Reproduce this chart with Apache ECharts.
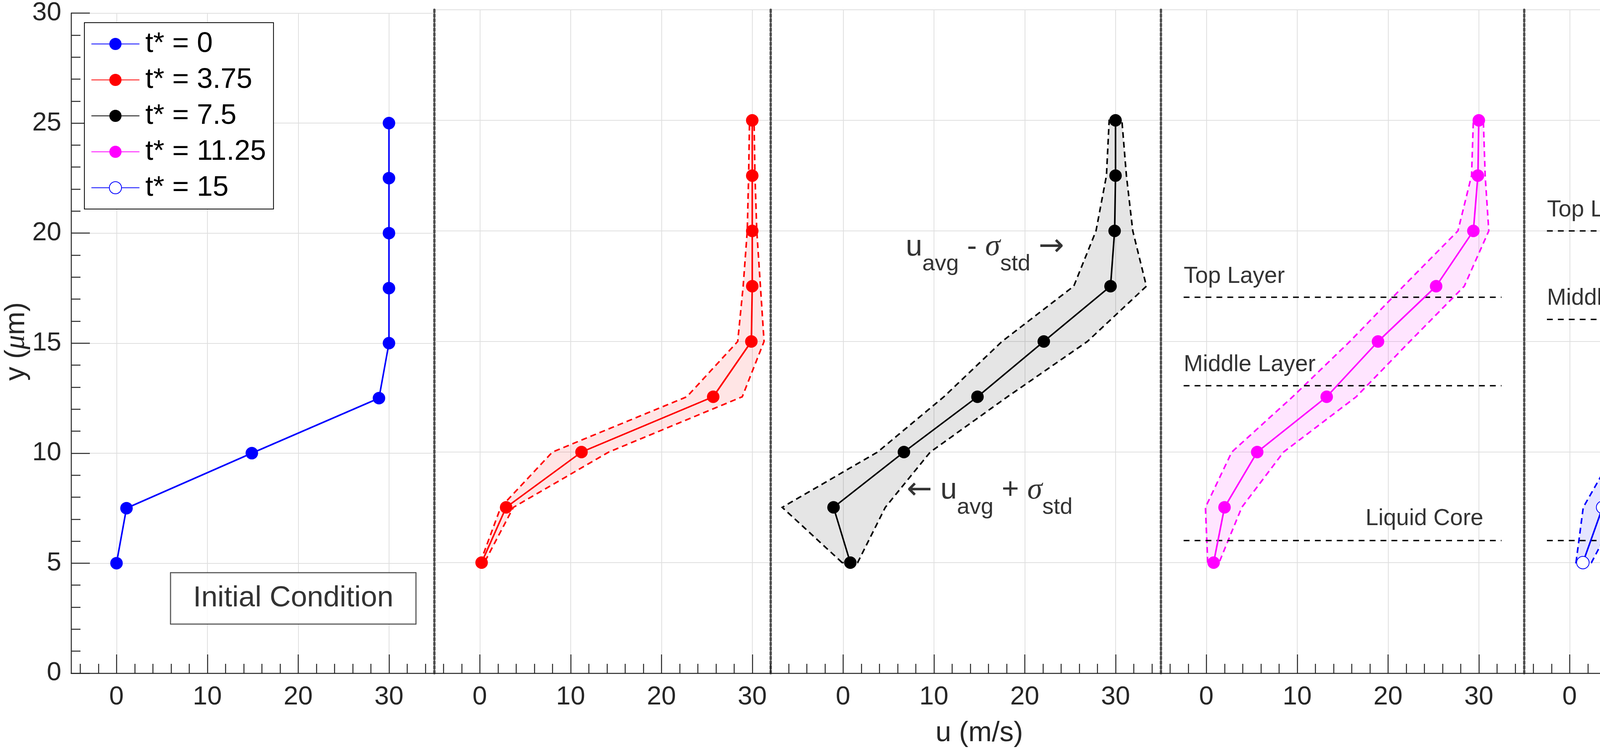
<!DOCTYPE html>
<html>
<head>
<meta charset="utf-8">
<script src="https://cdn.jsdelivr.net/npm/echarts@6/dist/echarts.min.js"></script>
<style>
  html, body { margin: 0; padding: 0; background: #fff; }
  #main { width: 4837px; height: 1917px; }
</style>
</head>
<body>
<div id="main"></div>
<script>
// y positions of the profile points (um)
var yLevels = [5, 7.5, 10, 12.5, 15, 17.5, 20, 22.5, 25];

// t* = 0, initial condition
var u_t0 = [0, 1.1, 14.9, 28.9, 30, 30, 30, 30, 30];

// t* = 3.75
var u_t375 = [0.2, 2.9, 11.2, 25.7, 29.9, 30, 30, 30, 30];
var lo_t375 = [0.05, 2.3, 8.0, 22.8, 28.4, 29.0, 29.45, 29.6, 29.7];
var hi_t375 = [0.5, 3.7, 14.2, 28.9, 31.3, 30.9, 30.5, 30.3, 30.2];

// t* = 7.5
var u_t75 = [0.8, -1.05, 6.7, 14.8, 22.1, 29.45, 29.9, 30, 30];
var lo_t75 = [-0.1, -6.7, 3.8, 11.1, 17.5, 25.4, 27.85, 29.0, 29.3];
var hi_t75 = [1.6, 4.65, 9.6, 18.1, 26.9, 33.4, 31.9, 31.2, 30.7];

// t* = 11.25
var u_t1125 = [0.8, 2.0, 5.6, 13.25, 18.9, 25.3, 29.4, 29.9, 30];
var lo_t1125 = [0.15, -0.1, 2.8, 9.5, 15.8, 21.7, 27.7, 29.2, 29.4];
var hi_t1125 = [1.4, 3.9, 8.5, 16.5, 22.4, 28.4, 31.1, 30.7, 30.5];

// t* = 15
var u_t15 = [1.46, 3.63, 7.74, 12.6, 15.8, 21.9, 26.46, 29.43, 29.97];
var lo_t15 = [0.7, 1.5, 4.96, 9.07, 12.1, 19.4, 24.6, 28.05, 29.4];
var hi_t15 = [2.4, 5.6, 10.0, 16.1, 19.3, 24.3, 28.3, 30.8, 30.4];

var panelNames = ['t* = 0', 't* = 3.75', 't* = 7.5', 't* = 11.25', 't* = 15'];
var panelAvg = [u_t0, u_t375, u_t75, u_t1125, u_t15];
var panelLo = [null, lo_t375, lo_t75, lo_t1125, lo_t15];
var panelHi = [null, hi_t375, hi_t75, hi_t1125, hi_t15];
var panelMin = [-5, -5, -8, -5, -5];
var panelMax = [35, 32, 35, 35, 35];

// ticks
var xTickLabels = [0, 10, 20, 30];
var xMinorStep = 2;

// layer boundaries (panels 4 and 5)
var layerNames = ['Top Layer', 'Middle Layer', 'Liquid Core'];
var layerY_t1125 = [17, 13, 6];
var layerY_t15 = [20, 16, 6];
var layerX = [-2.5, 32.5];

var colors = ['#0000ff', '#ff0000', '#000000', '#ff00ff', '#0000ff'];
var fills = [null, 'rgba(255,0,0,0.1)', 'rgba(0,0,0,0.1)', 'rgba(255,0,255,0.1)', 'rgba(0,0,255,0.1)'];

var FONT = 'Liberation Sans, Arial, Helvetica, sans-serif';
var axisColor = '#262626';
var gridColor = '#dfdfdf';

// layout
var unitX = 23.25, left0 = 182, top0 = 25, plotH = 1698;

var myChart = echarts.init(document.getElementById('main'), null, {renderer: 'canvas'});

function pairs(xs) {
    return yLevels.map(function (y, k) { return [xs[k], y]; });
}

var grids = [], xAxes = [], xMinorAxes = [], yAxes = [], series = [];
var cursor = left0;
for (var i = 0; i < 5; i++) {
    var w = (panelMax[i] - panelMin[i]) * unitX;
    grids.push({left: cursor, top: top0, width: w, height: plotH, containLabel: false});
    cursor += w;

    xAxes.push({
        type: 'value', gridIndex: i, position: 'bottom',
        min: panelMin[i], max: panelMax[i],
        axisLine: {show: true, onZero: false, lineStyle: {color: axisColor, width: 2.5}},
        axisTick: {show: true, inside: true, length: 48, customValues: xTickLabels,
            lineStyle: {color: axisColor, width: 2.5}},
        axisLabel: {show: true, customValues: xTickLabels, fontSize: 67, margin: 28,
            color: axisColor, fontFamily: FONT},
        splitLine: {show: true, lineStyle: {color: gridColor, width: 2}}
    });

    var minorVals = [];
    for (var v = Math.ceil(panelMin[i] / xMinorStep) * xMinorStep; v <= panelMax[i]; v += xMinorStep) {
        if (xTickLabels.indexOf(v) < 0) minorVals.push(v);
    }
    xMinorAxes.push({
        type: 'value', gridIndex: i, position: 'bottom',
        min: panelMin[i], max: panelMax[i],
        axisLine: {show: false, onZero: false},
        axisTick: {show: true, inside: true, length: 24, customValues: minorVals,
            lineStyle: {color: axisColor, width: 2.5}},
        axisLabel: {show: false},
        splitLine: {show: false}
    });

    if (i === 0) {
        yAxes.push({
            type: 'value', gridIndex: i, min: 0, max: 30, interval: 5,
            axisLine: {show: true, onZero: false, lineStyle: {color: axisColor, width: 2.5}},
            axisTick: {show: true, inside: true, length: 48, lineStyle: {color: axisColor, width: 2.5}},
            minorTick: {show: true, splitNumber: 5, length: 24, lineStyle: {color: axisColor, width: 2.5}},
            axisLabel: {fontSize: 67, margin: 25, color: axisColor, fontFamily: FONT},
            splitLine: {show: true, lineStyle: {color: gridColor, width: 2}}
        });
    } else {
        yAxes.push({
            type: 'value', gridIndex: i, min: 0, max: 30, interval: 5,
            axisLine: {show: true, onZero: false, lineStyle: {color: '#505050', width: 6, type: [6, 6]}},
            axisTick: {show: false},
            axisLabel: {show: false},
            splitLine: {show: true, lineStyle: {color: gridColor, width: 2}}
        });
    }

    // +/- std band
    if (panelLo[i]) {
        (function (lo, hi, fill, col, idx) {
            series.push({
                type: 'custom', xAxisIndex: idx, yAxisIndex: idx, silent: true, z: 1,
                data: [0],
                renderItem: function (params, api) {
                    var pts = [];
                    for (var k = 0; k < yLevels.length; k++) pts.push(api.coord([lo[k], yLevels[k]]));
                    for (var k2 = yLevels.length - 1; k2 >= 0; k2--) pts.push(api.coord([hi[k2], yLevels[k2]]));
                    return {
                        type: 'polygon',
                        shape: {points: pts},
                        style: {fill: fill, stroke: col, lineWidth: 4, lineDash: [15, 10]}
                    };
                }
            });
        })(panelLo[i], panelHi[i], fills[i], colors[i], i);
    }

    series.push({
        name: panelNames[i], type: 'line', xAxisIndex: i, yAxisIndex: i, z: 5,
        data: pairs(panelAvg[i]),
        symbol: i === 4 ? 'emptyCircle' : 'circle',
        symbolSize: 32,
        lineStyle: {color: colors[i], width: 4},
        itemStyle: {color: colors[i], borderWidth: i === 4 ? 4 : 0},
        silent: true
    });
}

// layer boundary lines and their labels
function addLayers(idx, levels) {
    levels.forEach(function (ly, k) {
        series.push({
            type: 'line', xAxisIndex: idx, yAxisIndex: idx, silent: true, z: 3,
            data: [[layerX[0], ly], [layerX[1], ly]],
            symbol: 'none',
            lineStyle: {color: '#000', width: 3.5, type: [15, 13]}
        });
        var right = layerNames[k] === 'Liquid Core';
        series.push({
            type: 'scatter', xAxisIndex: idx, yAxisIndex: idx, silent: true, z: 6,
            symbolSize: 0,
            data: [[right ? 30.5 : layerX[0], ly]],
            label: {
                show: true, position: [0, 0], offset: [0, right ? -26 : -24],
                align: right ? 'right' : 'left', verticalAlign: 'bottom',
                formatter: layerNames[k], fontSize: 59, lineHeight: 59,
                fontFamily: FONT, color: '#000'
            }
        });
    });
}
addLayers(3, layerY_t1125);
addLayers(4, layerY_t15);

// annotations
var noteRich = {
    m: {fontSize: 76, lineHeight: 80, fontFamily: FONT, color: '#000'},
    s: {fontSize: 58, lineHeight: 60, fontFamily: FONT, color: '#000', padding: [87, 0, 0, 0]},
    g: {fontSize: 78, lineHeight: 80, fontFamily: 'Liberation Serif, DejaVu Serif, serif', fontStyle: 'italic', color: '#000'},
    a: {fontSize: 78, lineHeight: 80, fontFamily: 'DejaVu Sans, sans-serif', color: '#000'}
};
var sigmaNotes = [
    {at: [6.9, 19.26], text: '{m|u}{s|avg}{m| - }{g|σ}{s|std}{m| }{a|→}'},
    {at: [7.0, 8.26], text: '{a|←}{m| u}{s|avg}{m| + }{g|σ}{s|std}'}
];
sigmaNotes.forEach(function (n) {
    series.push({
        type: 'scatter', xAxisIndex: 2, yAxisIndex: 2, silent: true, z: 6,
        symbolSize: 0,
        data: [n.at],
        label: {show: true, position: [0, 0], align: 'left', verticalAlign: 'middle',
            formatter: n.text, rich: noteRich}
    });
});

var initialNote = [19.46, 3.4];
series.push({
    type: 'scatter', xAxisIndex: 0, yAxisIndex: 0, silent: true, z: 6,
    symbolSize: 0,
    data: [initialNote],
    label: {
        show: true, position: [0, 0], align: 'center', verticalAlign: 'middle',
        formatter: 'Initial Condition', fontSize: 75, lineHeight: 76, fontFamily: FONT,
        color: '#000', backgroundColor: '#fff', borderColor: '#000', borderWidth: 2,
        padding: [27, 57, 27, 57]
    }
});

var plotRight = cursor;
var option = {
    animation: false,
    backgroundColor: '#fff',
    grid: grids,
    xAxis: xAxes.concat(xMinorAxes),
    yAxis: yAxes,
    legend: {
        data: panelNames,
        orient: 'vertical',
        left: 216, top: 58,
        padding: [18, 19, 18, 17],
        itemWidth: 123, itemHeight: 39, itemGap: 19,
        selectedMode: false,
        backgroundColor: '#fff',
        borderColor: '#000', borderWidth: 2,
        textStyle: {fontSize: 73, lineHeight: 72, fontFamily: FONT, color: '#000', padding: [0, 0, 0, 10]}
    },
    graphic: [
        {
            type: 'text', x: (left0 + plotRight) / 2, y: 1877, silent: true,
            style: {text: 'u (m/s)', fontSize: 72, fontFamily: FONT, fill: axisColor,
                align: 'center', verticalAlign: 'middle'}
        },
        {
            type: 'text', x: 42, y: top0 + plotH / 2, rotation: Math.PI / 2, silent: true,
            style: {
                text: '{n|y (}{g|μ}{n|m)}',
                rich: {
                    n: {fontSize: 72, fontFamily: FONT, fill: axisColor},
                    g: {fontSize: 74, fontFamily: 'Liberation Serif, DejaVu Serif, serif', fontStyle: 'italic', fill: axisColor}
                },
                align: 'center', verticalAlign: 'middle'
            }
        }
    ],
    series: series
};

myChart.setOption(option);
</script>
</body>
</html>
